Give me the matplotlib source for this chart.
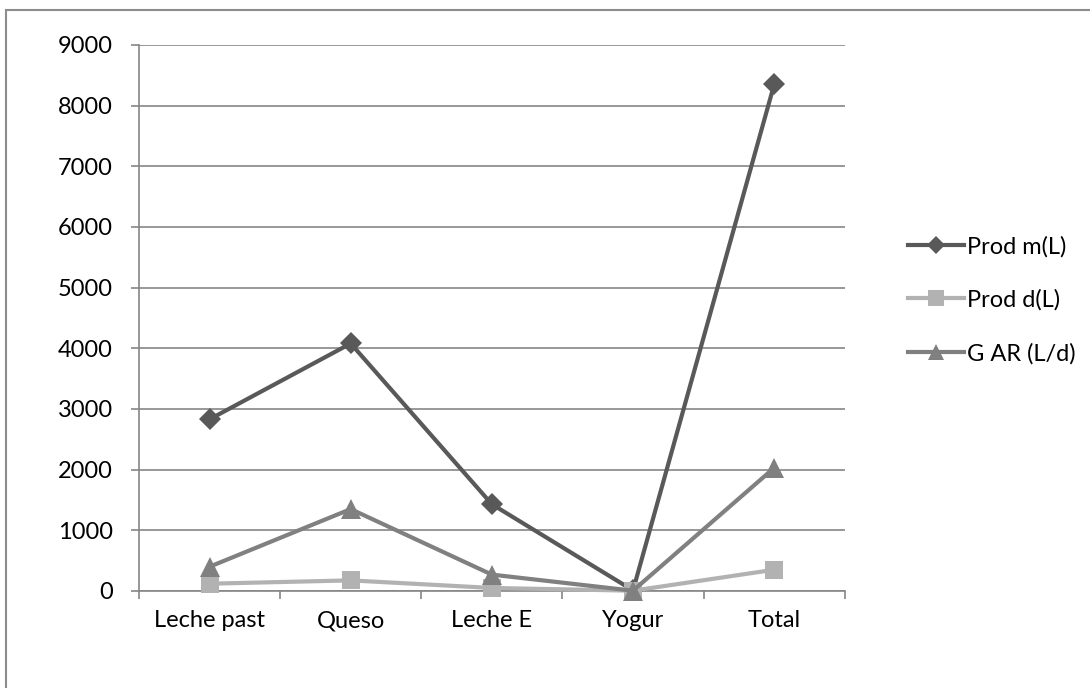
import numpy as np
import matplotlib.pyplot as plt
from matplotlib.patches import Rectangle

plt.rcParams['font.family'] = ['Lato', 'DejaVu Sans']

categorias = ["Leche past", "Queso", "Leche E", "Yogur", "Total"]
prod_m = [2830, 4080, 1430, 10, 8350]
prod_d = [120, 175, 50, 5, 350]
g_ar = [400, 1350, 270, 5, 2030]

series = [
    ("Prod m(L)", prod_m, "#595959", "D", 11),
    ("Prod d(L)", prod_d, "#b2b2b2", "s", 13),
    ("G AR (L/d)", g_ar, "#808080", "^", 14),
]

fig = plt.figure(figsize=(10.9, 6.88), dpi=100)
ax = fig.add_axes([0.1275, 0.141, 0.6475, 0.7936])

x = np.arange(len(categorias))
for nombre, vals, color, mk, ms in series:
    ax.plot(x, vals, color=color, lw=3, marker=mk, markersize=ms,
            markeredgewidth=0, label=nombre, clip_on=False, zorder=3)

ax.set_xlim(-0.5, len(categorias) - 0.5)
ax.set_ylim(0, 9000)
ax.set_yticks(np.arange(0, 9001, 1000))
ax.set_xticks(x)
ax.set_xticklabels(categorias)
ax.set_xticks(np.arange(-0.5, len(categorias)), minor=True)

ax.grid(axis="y", color="#868686", lw=1.2)
ax.set_axisbelow(True)
for s in ["top", "right"]:
    ax.spines[s].set_visible(False)
ax.spines["left"].set_color("#868686")
ax.spines["bottom"].set_color("#868686")
ax.spines["left"].set_linewidth(1.2)
ax.spines["bottom"].set_linewidth(1.2)

ax.tick_params(axis="x", which="major", length=0, pad=14, labelsize=17)
ax.tick_params(axis="x", which="minor", length=6, color="#868686", width=1.2)
ax.tick_params(axis="y", length=6, color="#868686", width=1.2, pad=13,
               labelsize=17)

leg = ax.legend(loc="center left", bbox_to_anchor=(1.089, 0.533), frameon=False,
                fontsize=17, handlelength=2.4, handletextpad=0.1,
                labelspacing=1.35, borderaxespad=0, borderpad=0,
                markerscale=0.85)

# chart frame
fig.patches.append(Rectangle((6 / 1090, -0.1), 1.2, 1 - 10 / 688 + 0.1,
                             transform=fig.transFigure, fill=False,
                             edgecolor="#8c8c8c", lw=1.5))

fig.savefig("out.png", dpi=100)
